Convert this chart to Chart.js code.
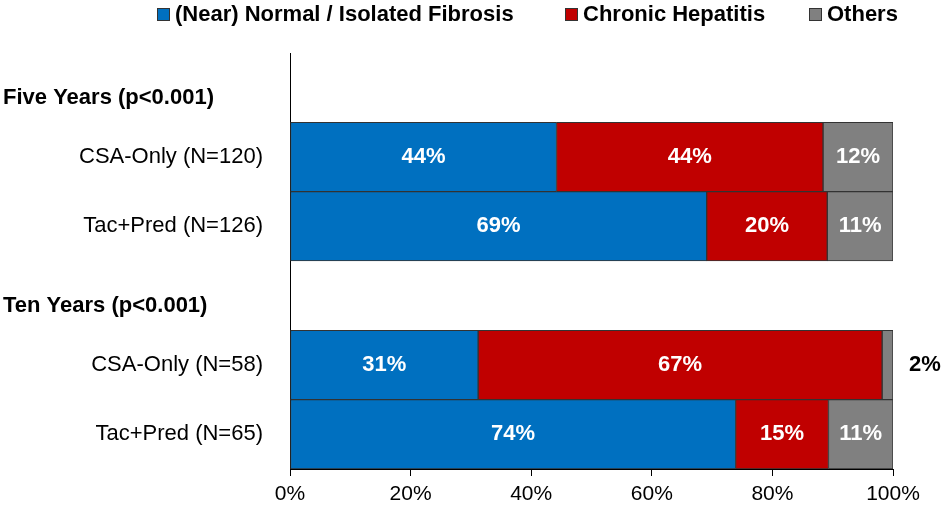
<!DOCTYPE html>
<html>
<head>
<meta charset="utf-8">
<script src="https://cdn.jsdelivr.net/npm/chart.js@4"></script>
<style>
  html, body { margin: 0; padding: 0; background: #fff; }
  #wrap { width: 945px; height: 507px; }
</style>
</head>
<body>
<div id="wrap"><canvas id="chart"></canvas></div>
<script>
const categories = ['Five Years (p<0.001)', 'CSA-Only (N=120)', 'Tac+Pred (N=126)',
                    'Ten Years (p<0.001)', 'CSA-Only (N=58)', 'Tac+Pred (N=65)'];
const headerRows = [0, 3];
const normalVals  = [null, 44.2, 69.1, null, 31.2, 73.9];
const chronicVals = [null, 44.2, 20.0, null, 67.0, 15.4];
const otherVals   = [null, 11.6, 10.9, null, 1.8, 10.7];
const seriesNames = ['(Near) Normal / Isolated Fibrosis', 'Chronic Hepatitis', 'Others'];
const xTicks = [0, 20, 40, 60, 80, 100];

const FONT = '"Liberation Sans", Arial, sans-serif';

// header rows bold + left aligned, value labels in the segments, legend on top
const labelPlugin = {
  id: 'labels',
  afterDatasetsDraw(chart) {
    const ctx = chart.ctx;
    const yScale = chart.scales.y;
    ctx.save();
    ctx.textBaseline = 'middle';
    ctx.font = 'bold 22px ' + FONT;
    ctx.fillStyle = '#000';
    ctx.textAlign = 'left';
    headerRows.forEach((i) => {
      ctx.fillText(categories[i], 3, yScale.getPixelForValue(i) + 10);
    });

    ctx.textAlign = 'center';
    chart.data.datasets.forEach((ds, di) => {
      chart.getDatasetMeta(di).data.forEach((bar, i) => {
        const v = ds.data[i];
        if (v == null) return;
        const txt = Math.round(v) + '%';
        if (v < 5) {
          ctx.fillStyle = '#000';
          ctx.fillText(txt, chart.chartArea.right + 32, bar.y);
        } else {
          ctx.fillStyle = '#fff';
          ctx.fillText(txt, (bar.x + bar.base) / 2, bar.y);
        }
      });
    });

    // legend
    ctx.textAlign = 'left';
    const boxPos = [157, 565, 809];
    chart.data.datasets.forEach((ds, di) => {
      const x = boxPos[di];
      ctx.fillStyle = ds.backgroundColor;
      ctx.fillRect(x, 8, 13, 13);
      ctx.strokeStyle = '#333';
      ctx.lineWidth = 1;
      ctx.strokeRect(x + 0.5, 8.5, 12, 12);
      ctx.fillStyle = '#000';
      ctx.fillText(ds.label, x + 18, 15);
    });
    ctx.restore();
  }
};

const ctx = document.getElementById('chart').getContext('2d');
new Chart(ctx, {
  type: 'bar',
  data: {
    labels: categories,
    datasets: [
      { label: seriesNames[0], data: normalVals,  backgroundColor: '#0070C0' },
      { label: seriesNames[1], data: chronicVals, backgroundColor: '#C00000' },
      { label: seriesNames[2], data: otherVals,   backgroundColor: '#808080' },
    ].map((d) => Object.assign(d, {
      borderColor: '#333',
      borderWidth: 1,
      borderSkipped: false,
      barPercentage: 1,
      categoryPercentage: 1,
    })),
  },
  options: {
    indexAxis: 'y',
    responsive: true,
    maintainAspectRatio: false,
    animation: false,
    layout: { padding: { top: 53, right: 52, left: 0, bottom: 0 } },
    plugins: {
      legend: { display: false },
      tooltip: { enabled: false },
    },
    scales: {
      x: {
        stacked: true,
        min: 0,
        max: 100,
        afterBuildTicks: (scale) => { scale.ticks = xTicks.map((v) => ({ value: v })); },
        grid: { drawOnChartArea: false, drawTicks: true, tickLength: 7, color: '#000' },
        border: { display: true, color: '#000' },
        ticks: {
          color: '#000',
          padding: 6,
          maxRotation: 0,
          font: { family: FONT, size: 21 },
          callback: (v) => v + '%',
        },
        afterFit: (scale) => { scale.height = 38; },
      },
      y: {
        stacked: true,
        grid: { display: false },
        border: { display: true, color: '#000' },
        ticks: {
          color: '#000',
          padding: 19,
          font: { family: FONT, size: 22 },
          callback: (v, i) => (headerRows.includes(i) ? '' : categories[i]),
        },
        afterFit: (scale) => { scale.width = 290; },
      },
    },
  },
  plugins: [labelPlugin],
});
</script>
</body>
</html>
